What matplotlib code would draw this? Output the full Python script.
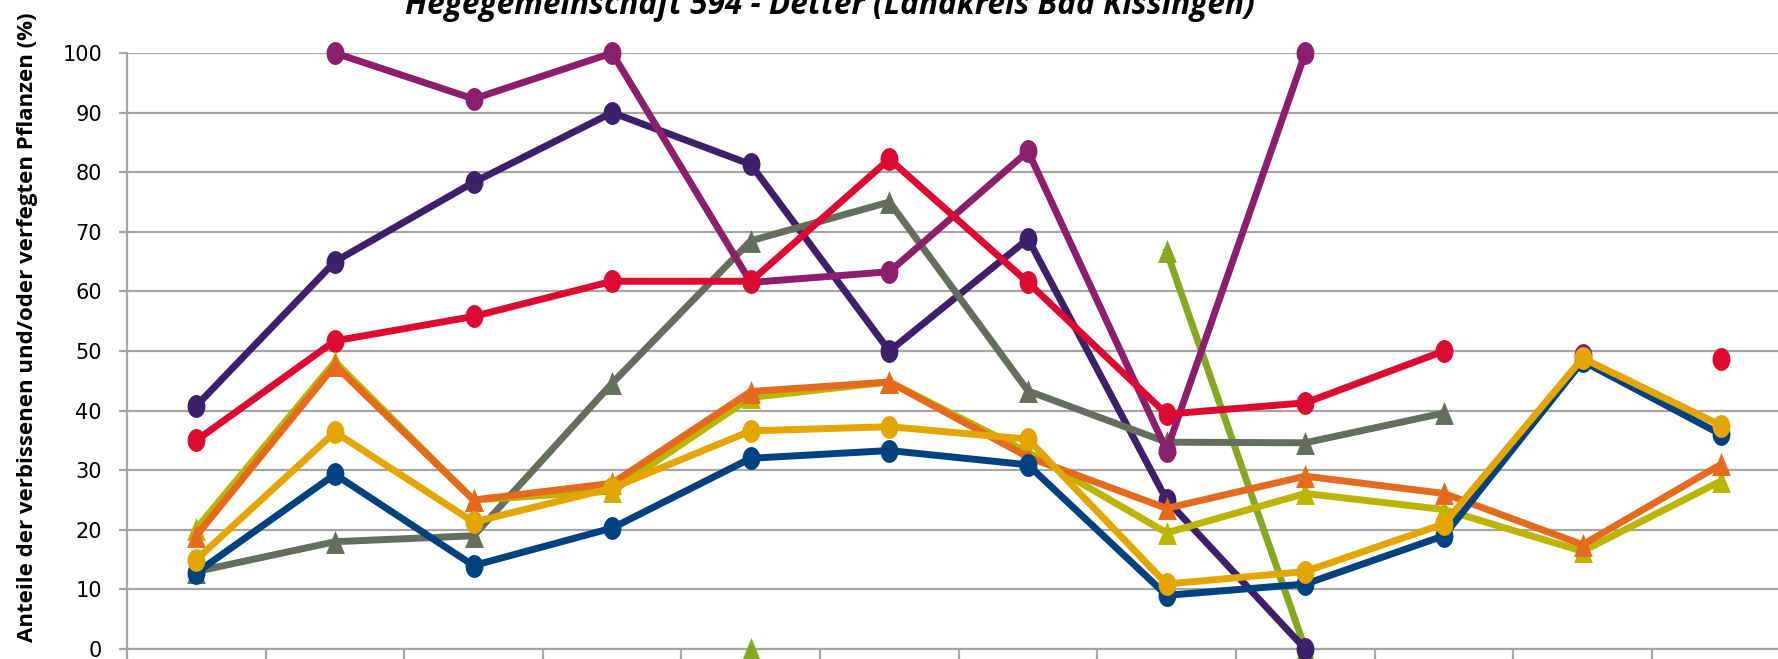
import numpy as np
import matplotlib
matplotlib.use("Agg")
import matplotlib.pyplot as plt
import matplotlib.path as mpath

# Data (None = no value for that area)
categories = list(range(12))

blue = [12.8, 29.3, 14.0, 20.3, 32.0, 33.3, 30.9, 9.0, 10.9, 19.0, 48.3, 36.0]
gray = [13.0, 18.0, 19.0, 44.6, 68.5, 75.0, 43.3, 34.7, 34.6, 39.6, None, None]
olive = [20.2, 48.2, 25.0, 26.5, 42.2, 44.8, 33.0, 19.5, 26.1, 23.4, 16.4, 28.2]
orange = [19.0, 47.6, 25.0, 27.8, 43.2, 44.8, 32.2, 23.6, 29.0, 26.1, 17.5, 31.0]
gold = [15.0, 36.4, 21.3, 27.0, 36.6, 37.3, 35.2, 10.9, 13.0, 21.0, 48.8, 37.5]
dark_purple = [40.8, 65.0, 78.3, 90.0, 81.3, 50.0, 68.8, 25.0, 0.0, None, None, None]
magenta = [None, 100.0, 92.3, 100.0, 61.5, 63.3, 83.5, 33.3, 100.0, None, 49.3, None]
red = [35.0, 51.7, 55.8, 61.7, 61.7, 82.2, 61.5, 39.4, 41.3, 50.0, None, 48.7]
green = [None, None, None, None, 0.0, None, None, 66.7, 0.0, None, None, None]

title = "Hegegemeinschaft 594 - Detter (Landkreis Bad Kissingen)"
ylabel = "Anteile der verbissenen und/oder verfegten Pflanzen (%)"


def vals(lst):
    return np.array([np.nan if v is None else v for v in lst], dtype=float)


# markers look stretched vertically in the original
t = np.linspace(0, 2 * np.pi, 41)
ellipse = mpath.Path(np.column_stack([0.78 * np.cos(t), np.sin(t)]), closed=True)
triangle = mpath.Path([[0, 1], [-0.82, -1], [0.82, -1], [0, 1]], closed=True)

fig = plt.figure(figsize=(17.78, 6.59), dpi=100)
W, H = 1778, 659
ax = fig.add_axes([127 / W, 10 / H, 1 - 127 / W, 596 / H])

# bottom to top drawing order
series = [
    (green, '#84A822', triangle),
    (dark_purple, '#3D1F6A', ellipse),
    (gray, '#646E5C', triangle),
    (magenta, '#8C1F6B', ellipse),
    (red, '#DC0A32', ellipse),
    (olive, '#BBB400', triangle),
    (orange, '#E46A1E', triangle),
    (blue, '#00427F', ellipse),
    (gold, '#E3A600', ellipse),
]

for i, (data, color, marker) in enumerate(series):
    ax.plot(categories, vals(data), color=color, lw=5, marker=marker,
            ms=16.5, mec=color, mfc=color, mew=0, zorder=3 + i, clip_on=False,
            solid_joinstyle='miter')

ax.set_xlim(-0.5, 11.41)
ax.set_ylim(0, 100)
ax.set_yticks(range(0, 101, 10))
ax.set_xticks(np.arange(-0.5, 11.5, 1))
ax.set_xticklabels([])
ax.grid(axis='y', color='#A6A6A6', lw=1.6, zorder=0)
for side in ['top', 'right']:
    ax.spines[side].set_visible(False)
for side in ['left', 'bottom']:
    ax.spines[side].set_color('#A6A6A6')
    ax.spines[side].set_linewidth(1.6)
ax.tick_params(axis='y', length=6, width=1.6, color='#A6A6A6', pad=12,
               labelsize=15, labelcolor='black')
ax.tick_params(axis='x', length=8, width=1.6, color='#A6A6A6')
for lbl in ax.get_yticklabels():
    lbl.set_fontfamily('DejaVu Sans')

fig.text(830 / W, (H - 14) / H, title, ha='center', va='baseline',
         fontsize=22.8, fontweight='bold', fontstyle='italic', family='Open Sans')
fig.text(28 / W, 0.504, ylabel, rotation=90, ha='center', va='center',
         fontsize=16, fontweight='bold', family='Open Sans')

fig.savefig('out.png', dpi=100)
